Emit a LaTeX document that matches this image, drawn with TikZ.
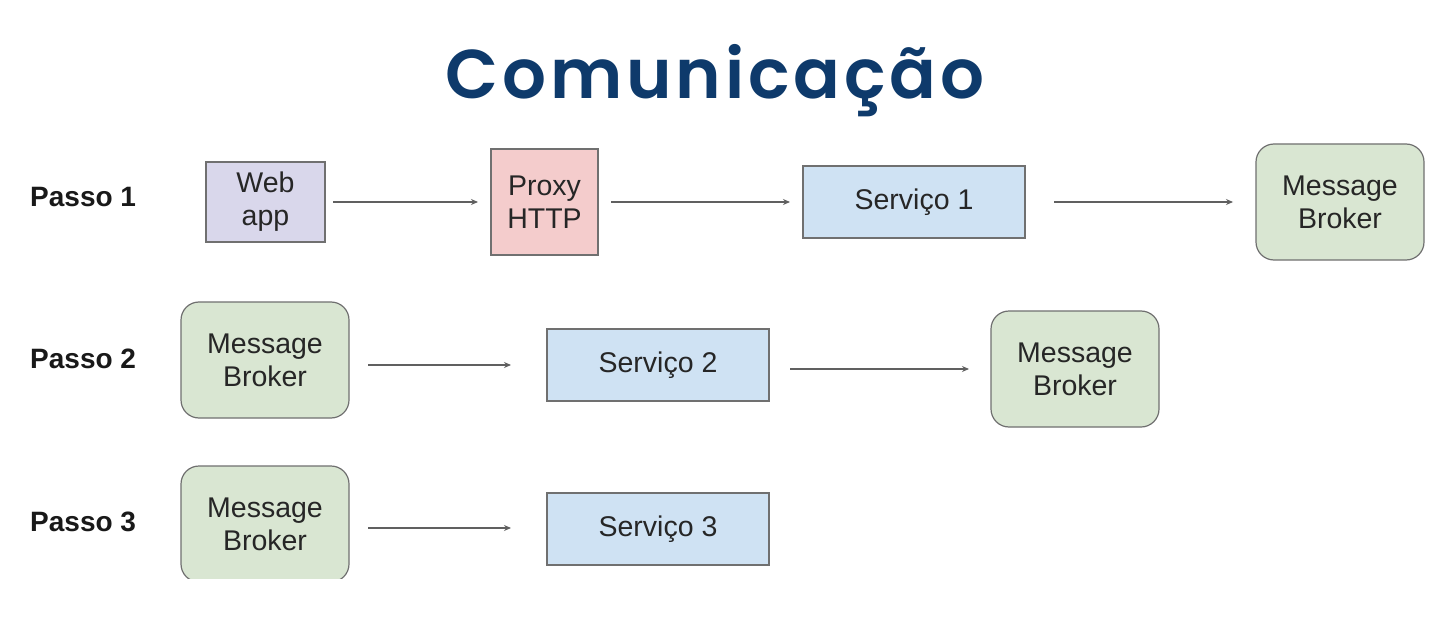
\documentclass[tikz,border=0pt]{standalone}
\usepackage{fontspec}
\setmainfont{Liberation Sans}
\newfontfamily\titlefont{Poppins SemiBold}[LetterSpace=5.5]
\usetikzlibrary{arrows.meta}
\definecolor{titleblue}{HTML}{0E3A6B}
\definecolor{bordergray}{HTML}{707070}
\definecolor{arrowgray}{HTML}{606060}
\definecolor{webfill}{HTML}{D9D7EB}
\definecolor{proxyfill}{HTML}{F4CCCC}
\definecolor{svcfill}{HTML}{CFE2F3}
\definecolor{mbfill}{HTML}{D9E6D2}
\tikzset{
  boxbase/.style={draw=bordergray, line width=1.2pt, align=center, inner sep=0pt,
    font=\fontsize{28.5}{33}\selectfont, text=black!85},
  webbox/.style={boxbase, fill=webfill, minimum width=119pt, minimum height=80pt},
  proxybox/.style={boxbase, fill=proxyfill, minimum width=107pt, minimum height=106pt},
  svcbox/.style={boxbase, fill=svcfill, minimum width=222pt, minimum height=72pt},
  mbbox/.style={boxbase, fill=mbfill, rounded corners=18pt, minimum width=168pt, minimum height=116pt},
  passo/.style={font=\bfseries\fontsize{28}{32}\selectfont, anchor=west, inner sep=0pt, text=black!90},
  flow/.style={draw=arrowgray, line width=1.3pt, -{Stealth[length=7pt, width=6pt]}}
}
\begin{document}
\begin{tikzpicture}[x=1pt, y=-1pt]
\useasboundingbox (0,0) rectangle (1431,639);
\fill[white] (0,0) rectangle (1431,639);
\node[font=\titlefont\fontsize{69}{76}\selectfont, text=titleblue, anchor=base, inner sep=0pt] (title) at (715,99) {Comunicação};

\node[passo] (p1) at (30,197) {Passo 1};
\node[passo] (p2) at (30,359) {Passo 2};
\node[passo] (p3) at (30,522) {Passo 3};

% Passo 1
\node[webbox] (web) at (265.5,202) {Web\\app};
\node[proxybox] (proxy) at (544.5,202) {Proxy\\HTTP};
\node[svcbox] (s1) at (914,202) {Serviço 1};
\node[mbbox] (mb1) at (1340,202) {Message\\Broker};
\coordinate (a1s) at (333,202); \coordinate (a1e) at (478,202);
\coordinate (a2s) at (611,202); \coordinate (a2e) at (790,202);
\coordinate (a3s) at (1054,202); \coordinate (a3e) at (1233,202);
\draw[flow] (a1s) -- (a1e);
\draw[flow] (a2s) -- (a2e);
\draw[flow] (a3s) -- (a3e);

% Passo 2
\node[mbbox] (mb2) at (265,360) {Message\\Broker};
\node[svcbox] (s2) at (658,365) {Serviço 2};
\node[mbbox] (mb3) at (1075,369) {Message\\Broker};
\coordinate (b1s) at (368,365); \coordinate (b1e) at (511,365);
\coordinate (b2s) at (790,369); \coordinate (b2e) at (969,369);
\draw[flow] (b1s) -- (b1e);
\draw[flow] (b2s) -- (b2e);

% Passo 3
\begin{scope}
\clip (0,0) rectangle (1431,578);
\node[mbbox] (mb4) at (265,524) {Message\\Broker};
\end{scope}
\node[svcbox] (s3) at (658,529) {Serviço 3};
\coordinate (c1s) at (368,528); \coordinate (c1e) at (511,528);
\draw[flow] (c1s) -- (c1e);
\end{tikzpicture}
\end{document}
